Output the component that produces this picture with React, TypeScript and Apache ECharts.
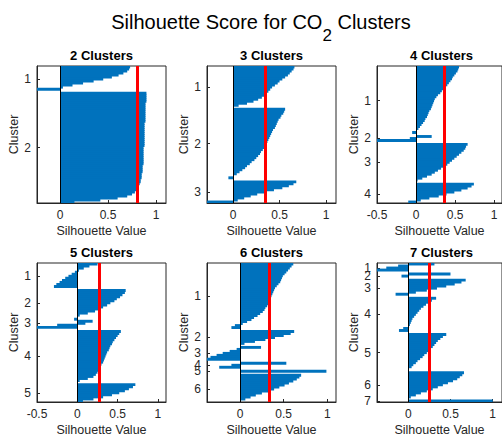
import React, { useEffect, useRef } from 'react';
import * as echarts from 'echarts';

// ---- data (silhouette values per cluster, sorted as drawn) ----
const clusterCounts = [2, 3, 4, 5, 6, 7];
const meanScores = [0.8, 0.35, 0.36, 0.27, 0.33, 0.25];

const k2c1 = [0.73, 0.72, 0.7, 0.66, 0.61, 0.54, 0.45, 0.35, 0.24, 0.13, 0.03, -0.4];
const k2c2 = [0.9, 0.9, 0.9, 0.9, 0.9, 0.89, 0.89, 0.89, 0.89, 0.89, 0.89, 0.89, 0.89, 0.89, 0.89, 0.88, 0.88, 0.88, 0.88, 0.88, 0.88, 0.88, 0.88, 0.88, 0.88, 0.88, 0.88, 0.87, 0.87, 0.87, 0.87, 0.87, 0.87, 0.87, 0.87, 0.87, 0.86, 0.86, 0.86, 0.86, 0.85, 0.85, 0.85, 0.84, 0.84, 0.83, 0.82, 0.81, 0.8, 0.78, 0.75, 0.7, 0.6, 0.42, 0.15];

const k3c1 = [0.66, 0.65, 0.63, 0.61, 0.59, 0.56, 0.53, 0.5, 0.48, 0.45, 0.42, 0.4, 0.38, 0.36, 0.34, 0.31, 0.27, 0.22, 0.15, 0.06];
const k3c2 = [0.56, 0.55, 0.54, 0.52, 0.51, 0.49, 0.48, 0.47, 0.46, 0.45, 0.43, 0.42, 0.41, 0.4, 0.39, 0.38, 0.37, 0.36, 0.35, 0.34, 0.32, 0.3, 0.29, 0.27, 0.25, 0.23, 0.2, 0.18, 0.15, 0.13, 0.1, 0.07, 0.04, 0.01, -0.05];
const k3c3 = [0.68, 0.65, 0.6, 0.53, 0.44, 0.35, 0.26, 0.19, 0.12, 0.05, -0.35];

const k4c1 = [0.55, 0.54, 0.53, 0.51, 0.49, 0.47, 0.46, 0.44, 0.42, 0.4, 0.38, 0.35, 0.33, 0.31, 0.28, 0.26, 0.24, 0.23, 0.22, 0.21, 0.2, 0.19, 0.17, 0.16, 0.15, 0.14, 0.12, 0.11, 0.09, 0.07, 0.05, 0.03, 0.01, -0.05];
const k4c2 = [0.2, -0.08, -0.55];
const k4c3 = [0.66, 0.64, 0.63, 0.61, 0.58, 0.55, 0.52, 0.49, 0.46, 0.43, 0.4, 0.36, 0.32, 0.28, 0.24, 0.2, 0.14, 0.08, 0.02];
const k4c4 = [0.74, 0.71, 0.66, 0.58, 0.49, 0.39, 0.29, 0.17, 0.06, -0.1];

const k5c1 = [0.25, 0.15, 0.08, 0.02, -0.03, -0.07, -0.11, -0.15, -0.19, -0.22, -0.26, -0.29];
const k5c2 = [0.6, 0.59, 0.56, 0.53, 0.49, 0.46, 0.41, 0.37, 0.32, 0.27, 0.22, 0.13, 0.03];
const k5c3 = [-0.04, 0.19, 0.1, -0.25, -0.55];
const k5c4 = [0.54, 0.52, 0.5, 0.48, 0.46, 0.44, 0.43, 0.41, 0.4, 0.39, 0.37, 0.36, 0.35, 0.34, 0.33, 0.32, 0.3, 0.29, 0.28, 0.27, 0.25, 0.23, 0.2, 0.13, 0.03];
const k5c5 = [0.72, 0.69, 0.64, 0.59, 0.52, 0.43, 0.32, 0.2, 0.07];

const k6c1 = [0.61, 0.59, 0.57, 0.55, 0.53, 0.51, 0.49, 0.48, 0.47, 0.46, 0.44, 0.42, 0.4, 0.39, 0.38, 0.37, 0.36, 0.35, 0.34, 0.33, 0.32, 0.31, 0.29, 0.28, 0.26, 0.23, 0.2, 0.16, 0.13, 0.08, 0.03, -0.06, -0.1];
const k6c2 = [0.62, 0.58, 0.5, 0.4, 0.29, 0.17, 0.05];
const k6c3 = [0.24, -0.04, -0.12, -0.2, -0.27, -0.34, -0.42];
const k6c4 = [0.53, -0.1, -0.24];
const k6c5 = [0.99];
const k6c6 = [0.7, 0.68, 0.65, 0.61, 0.56, 0.51, 0.45, 0.39, 0.32, 0.25, 0.18, 0.12, 0.06, 0.01];

const k7c1 = [0.31, -0.12, -0.26, -0.42];
const k7c2 = [0.5, -0.08];
const k7c3 = [0.68, 0.63, 0.55, 0.45, 0.34, 0.22, 0.09, -0.15];
const k7c4 = [0.33, 0.28, 0.24, 0.21, 0.18, 0.15, 0.13, 0.11, 0.09, 0.07, 0.05, 0.04, 0.03, 0.02, 0.01, -0.06, -0.11];
const k7c5 = [0.45, 0.41, 0.38, 0.35, 0.33, 0.31, 0.29, 0.26, 0.24, 0.22, 0.19, 0.17, 0.14, 0.11, 0.09, 0.06, 0.04, 0.01];
const k7c6 = [0.66, 0.64, 0.61, 0.58, 0.53, 0.47, 0.41, 0.35, 0.29, 0.22, 0.15, 0.09, 0.03];
const k7c7 = [1.0];

const silhouettes = [
  [k2c1, k2c2],
  [k3c1, k3c2, k3c3],
  [k4c1, k4c2, k4c3, k4c4],
  [k5c1, k5c2, k5c3, k5c4, k5c5],
  [k6c1, k6c2, k6c3, k6c4, k6c5, k6c6],
  [k7c1, k7c2, k7c3, k7c4, k7c5, k7c6, k7c7],
];

const xRanges = [
  [-0.24, 1.104],
  [-0.28, 1.107],
  [-0.5, 1.1],
  [-0.5, 1.1],
  [-0.38, 1.1],
  [-0.37, 1.11],
];

// ---- layout ----
const panelLefts = [37, 207, 377, 37, 207, 377];
const panelTops = [66, 66, 66, 263, 263, 263];
const panelWidth = 129;
const panelHeights = [137, 137, 137, 139, 139, 139];

const FONT = 'Liberation Sans, Arial, Helvetica, sans-serif';
const BAR_COLOR = '#0072BD';
const AXIS_COLOR = '#262626';

function buildRows(clusters: number[][]) {
  const names: string[] = [];
  const values: (number | null)[] = [];
  clusters.forEach((vals, ci) => {
    if (ci > 0) {
      names.push(`gap_${ci}`);
      values.push(null);
    }
    const center = Math.floor(vals.length / 2);
    vals.forEach((v, i) => {
      names.push(i === center ? String(ci + 1) : `r_${ci}_${i}`);
      values.push(v);
    });
  });
  return { names, values };
}

const isClusterRow = (value: string) => /^\d+$/.test(String(value));
// index 0 carries an empty placeholder label, dropped by showMinLabel:false,
// so that overlapping cluster labels near the top are all kept.
const labelInterval = (idx: number, value: string) => idx === 0 || isClusterRow(value);

export default function App() {
  const ref = useRef<HTMLDivElement>(null);

  useEffect(() => {
    if (!ref.current) return;
    const chart = echarts.init(ref.current, null, { renderer: 'svg' });

    const grids: any[] = [];
    const xAxes: any[] = [];
    const yAxes: any[] = [];
    const series: any[] = [];
    const graphics: any[] = [];

    silhouettes.forEach((clusters, p) => {
      const { names, values } = buildRows(clusters);
      const band = panelHeights[p] / names.length;
      grids.push({
        left: panelLefts[p],
        top: panelTops[p],
        width: panelWidth,
        height: panelHeights[p],
        show: true,
        borderColor: AXIS_COLOR,
        borderWidth: 1,
        backgroundColor: '#fff',
      });
      const [mn, mx] = xRanges[p];
      xAxes.push({
        type: 'value',
        gridIndex: p,
        min: mn,
        max: mx,
        minInterval: 0.5,
        maxInterval: 0.5,
        name: 'Silhouette Value',
        nameLocation: 'middle',
        nameGap: 21,
        nameTextStyle: { fontFamily: FONT, fontSize: 12.5, color: AXIS_COLOR },
        axisLine: { show: true, onZero: false, lineStyle: { color: AXIS_COLOR, width: 1 } },
        axisTick: { show: true, inside: true, length: 3, lineStyle: { color: AXIS_COLOR } },
        axisLabel: {
          fontFamily: FONT,
          fontSize: 12,
          color: AXIS_COLOR,
          margin: 6,
          showMinLabel: mn === -0.5,
          showMaxLabel: false,
        },
        splitLine: { show: false },
      });
      yAxes.push({
        type: 'category',
        gridIndex: p,
        inverse: true,
        data: names,
        name: 'Cluster',
        nameLocation: 'middle',
        nameGap: 16,
        nameTextStyle: { fontFamily: FONT, fontSize: 12.5, color: AXIS_COLOR },
        axisLine: { show: true, onZero: false, lineStyle: { color: AXIS_COLOR, width: 1 } },
        axisTick: {
          show: true,
          inside: true,
          length: 3,
          alignWithLabel: true,
          interval: labelInterval,
          lineStyle: { color: AXIS_COLOR },
        },
        axisLabel: {
          interval: labelInterval,
          formatter: (value: string) => (isClusterRow(value) ? value : ''),
          showMinLabel: false,
          showMaxLabel: true,
          hideOverlap: false,
          fontFamily: FONT,
          fontSize: 12,
          color: AXIS_COLOR,
          margin: 6,
        },
        splitLine: { show: false },
      });
      series.push({
        type: 'bar',
        xAxisIndex: p,
        yAxisIndex: p,
        data: values,
        barWidth: band + 0.9,
        barCategoryGap: '0%',
        clip: true,
        itemStyle: { color: BAR_COLOR },
        silent: true,
        markLine: {
          silent: true,
          symbol: ['none', 'none'],
          label: { show: false },
          data: [
            { xAxis: 0, lineStyle: { color: '#000', width: 1, type: 'solid' } },
            { xAxis: meanScores[p], lineStyle: { color: '#ff0000', width: 3, type: 'solid' } },
          ],
        },
      });
      graphics.push({
        type: 'text',
        x: panelLefts[p] + panelWidth / 2,
        y: panelTops[p] - 10.5,
        style: {
          text: `${clusterCounts[p]} Clusters`,
          fontFamily: FONT,
          fontSize: 13,
          fontWeight: 'bold',
          fill: '#000',
          align: 'center',
          verticalAlign: 'middle',
        },
      });
    });

    graphics.push({
      type: 'text',
      x: 261,
      y: 22,
      style: {
        text: 'Silhouette Score for CO{sub|2} Clusters',
        fontFamily: FONT,
        fontSize: 20,
        fill: '#000',
        align: 'center',
        verticalAlign: 'middle',
        rich: {
          sub: { fontFamily: FONT, fontSize: 17, fill: '#000', padding: [26, 0, 0, 0] },
        },
      },
    });

    chart.setOption({
      animation: false,
      backgroundColor: '#fff',
      grid: grids,
      xAxis: xAxes,
      yAxis: yAxes,
      series,
      graphic: graphics,
    });

    return () => chart.dispose();
  }, []);

  return (
    <div
      ref={ref}
      style={{ position: 'fixed', left: 0, top: 0, width: 502, height: 443 }}
    />
  );
}
